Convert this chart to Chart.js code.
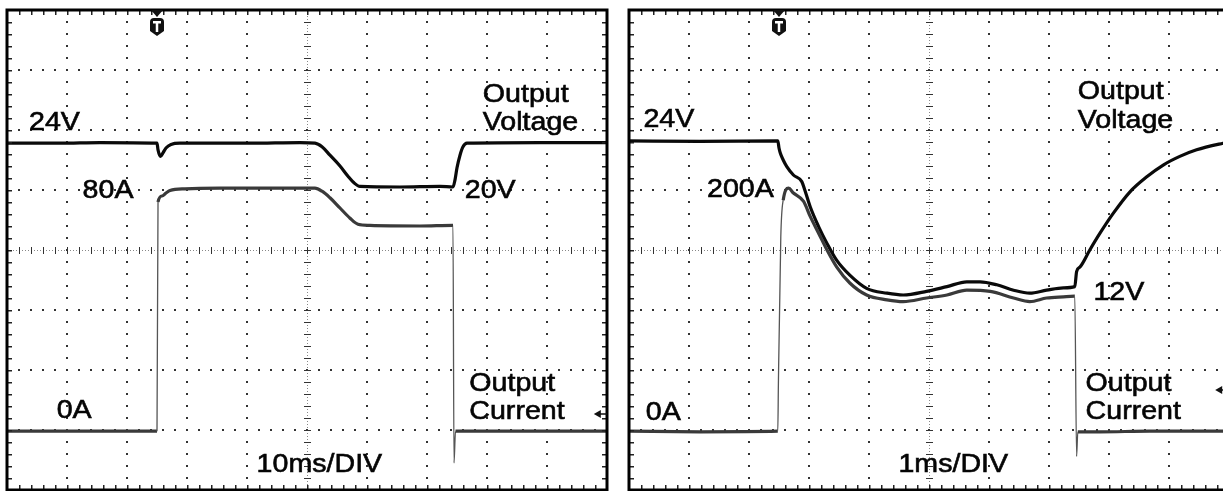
<!DOCTYPE html>
<html>
<head>
<meta charset="utf-8">
<script src="https://cdn.jsdelivr.net/npm/chart.js@4.4.1/dist/chart.umd.min.js"></script>
<style>
  html, body { margin: 0; padding: 0; background: #fff; overflow: hidden; }
  #wrap { position: relative; width: 1223px; height: 491px; overflow: hidden; }
  canvas { position: absolute; top: 0; }
  #left { left: 0; }
  #right { left: 612px; }
</style>
</head>
<body>
<div id="wrap">
  <canvas id="left" width="612" height="491"></canvas>
  <canvas id="right" width="623" height="491"></canvas>
</div>
<script>
// time in ms from the left edge of the screen, level in screen divisions (0 = bottom, 8 = top)

// left screen, 10ms/DIV
const leftVoltTime = [0, 8.8, 15.5, 25, 25.17, 25.58, 26, 26.5, 27.33, 28.83, 40.5, 48.83, 51.33, 52.5, 53.83, 55.5, 56.83, 57.83, 58.83, 65.5, 72.17, 74.33, 74.67, 75, 75.5, 76, 76.67, 88.83, 100];
const leftVolt = [5.78, 5.78, 5.79, 5.78, 5.67, 5.56, 5.62, 5.70, 5.76, 5.78, 5.78, 5.79, 5.78, 5.72, 5.58, 5.40, 5.23, 5.12, 5.06, 5.05, 5.06, 5.05, 5.17, 5.37, 5.58, 5.72, 5.78, 5.79, 5.79];
const leftAmpTime = [0, 25, 25.17, 25.83, 26.5, 27.17, 29.67, 35.5, 45.5, 51.33, 52.5, 53.83, 55.5, 57.17, 58.5, 60.5, 68.83, 74.33, 74.5, 74.75, 77.17, 100];
const leftAmp = [0.98, 0.98, 4.80, 4.90, 4.95, 4.99, 5.02, 5.03, 5.03, 5.03, 4.98, 4.87, 4.70, 4.53, 4.43, 4.41, 4.40, 4.41, 0.45, 0.98, 0.98, 0.98];

// right screen, 1ms/DIV
const rightVoltTime = [0, 1.18, 2.48, 2.5, 2.52, 2.57, 2.63, 2.74, 2.88, 2.93, 3.02, 3.16, 3.3, 3.46, 3.68, 3.96, 4.3, 4.57, 4.96, 5.3, 5.63, 5.85, 6.13, 6.41, 6.68, 6.96, 7.24, 7.43, 7.46, 7.52, 7.68, 7.85, 8.07, 8.35, 8.63, 8.91, 9.18, 9.46, 9.9, 10];
const rightVolt = [5.82, 5.81, 5.82, 5.70, 5.62, 5.50, 5.39, 5.25, 5.14, 5.00, 4.72, 4.39, 4.11, 3.83, 3.58, 3.36, 3.28, 3.25, 3.31, 3.39, 3.47, 3.47, 3.42, 3.33, 3.28, 3.33, 3.37, 3.39, 3.64, 3.72, 4.00, 4.28, 4.61, 4.97, 5.22, 5.42, 5.56, 5.67, 5.78, 5.80];
const rightAmpTime = [0, 1.18, 2.48, 2.49, 2.53, 2.57, 2.66, 2.74, 2.91, 3.02, 3.16, 3.3, 3.46, 3.68, 3.96, 4.3, 4.57, 4.96, 5.3, 5.63, 6.02, 6.41, 6.68, 6.96, 7.24, 7.43, 7.46, 7.48, 7.85, 8.68, 10];
const rightAmp = [0.98, 0.97, 0.98, 1.78, 4.22, 4.83, 5.03, 4.95, 4.81, 4.56, 4.28, 4.00, 3.72, 3.45, 3.25, 3.17, 3.14, 3.20, 3.25, 3.33, 3.31, 3.20, 3.14, 3.20, 3.22, 3.23, 0.56, 0.97, 0.97, 0.98, 0.98];

// text on the screens: [text, time, level of baseline]
const leftLabels = [
  ["24V", 3.67, 6.0], ["Output", 79.3, 6.47], ["Voltage", 79.3, 6.0],
  ["80A", 12.6, 4.87], ["20V", 76.3, 4.87], ["0A", 8.28, 1.2],
  ["Output", 77.05, 1.655], ["Current", 77.05, 1.183], ["10ms/DIV", 41.6, 0.305]
];
const rightLabels = [
  ["24V", 0.24, 6.05], ["200A", 1.3, 4.88], ["Output", 7.48, 6.51], ["Voltage", 7.48, 6.03],
  ["12V", 7.74, 3.17], ["0A", 0.28, 1.17],
  ["Output", 7.61, 1.655], ["Current", 7.61, 1.178], ["1ms/DIV", 4.49, 0.305]
];

const zip = (xs, ys) => xs.map((x, i) => ({ x: x, y: ys[i] }));

const scopePlugin = {
  id: "scope",
  beforeDatasetsDraw(chart, args, opts) {
    const { ctx, chartArea: a, scales } = chart;
    const px = d => scales.x.getPixelForValue(d * opts.perDiv);
    const py = d => scales.y.getPixelForValue(d);
    ctx.save();
    ctx.fillStyle = "#333";
    for (let i = 1; i < 10; i++) {
      if (i === 5) continue;
      const gx = Math.round(px(i));
      for (let k = 1; k < 40; k++) ctx.fillRect(gx - 1, Math.round(py(k * 0.2)) - 1, 2, 2);
    }
    for (let j = 1; j < 8; j++) {
      if (j === 4) continue;
      const gy = Math.round(py(j));
      for (let k = 1; k < 50; k++) ctx.fillRect(Math.round(px(k * 0.2)) - 1, gy - 1, 2, 2);
    }
    // centre cross with fine ticks
    const cx = Math.round(px(5)), cy = Math.round(py(4));
    ctx.fillStyle = "#888";
    for (let k = 1; k < 200; k++) ctx.fillRect(Math.round(px(k * 0.05)), cy, 1, 1);
    for (let k = 1; k < 160; k++) ctx.fillRect(cx, Math.round(py(k * 0.05)), 1, 1);
    ctx.fillStyle = "#333";
    for (let k = 1; k < 50; k++) ctx.fillRect(Math.round(px(k * 0.2)), cy - 3, 1, 7);
    for (let k = 1; k < 40; k++) ctx.fillRect(cx - 3, Math.round(py(k * 0.2)), 7, 1);
    ctx.restore();
  },
  afterDatasetsDraw(chart, args, opts) {
    const { ctx, chartArea: a, scales } = chart;
    const px = d => scales.x.getPixelForValue(d * opts.perDiv);
    const py = d => scales.y.getPixelForValue(d);
    ctx.save();
    // border with minor ticks
    ctx.fillStyle = "#222";
    for (let k = 1; k < 50; k++) {
      const tx = Math.round(px(k * 0.2));
      ctx.fillRect(tx, a.top, 1.5, 5);
      ctx.fillRect(tx, a.bottom - 5, 1.5, 5);
    }
    for (let k = 1; k < 40; k++) {
      const ty = Math.round(py(k * 0.2));
      ctx.fillRect(a.left, ty, 5, 1.5);
      ctx.fillRect(a.right - 5, ty, 5, 1.5);
    }
    ctx.strokeStyle = "#000";
    ctx.lineWidth = 3;
    ctx.strokeRect(a.left, a.top, a.right - a.left, a.bottom - a.top);

    // trigger marker
    const tx = Math.round(px(opts.trigger));
    const top = a.top;
    ctx.fillStyle = "#111";
    ctx.beginPath();
    ctx.moveTo(tx - 6, top); ctx.lineTo(tx + 6, top); ctx.lineTo(tx, top + 7);
    ctx.closePath(); ctx.fill();
    ctx.beginPath();
    ctx.moveTo(tx - 7, top + 12);
    ctx.quadraticCurveTo(tx - 7, top + 8, tx - 3, top + 8);
    ctx.lineTo(tx + 3, top + 8);
    ctx.quadraticCurveTo(tx + 7, top + 8, tx + 7, top + 12);
    ctx.lineTo(tx + 7, top + 21);
    ctx.lineTo(tx, top + 26);
    ctx.lineTo(tx - 7, top + 21);
    ctx.closePath(); ctx.fill();
    ctx.fillStyle = "#fff";
    ctx.fillRect(tx - 4, top + 11, 8, 2.5);
    ctx.fillRect(tx - 1.25, top + 11, 2.5, 11);

    // channel arrow
    const ax = px(opts.arrow[0]), ay = Math.round(py(opts.arrow[1]));
    ctx.fillStyle = "#111";
    ctx.beginPath();
    ctx.moveTo(ax, ay); ctx.lineTo(ax + 7, ay - 4); ctx.lineTo(ax + 7, ay + 4);
    ctx.closePath(); ctx.fill();
    ctx.fillRect(ax + 6, ay - 0.75, 7, 1.5);

    // labels
    ctx.fillStyle = "#050505";
    ctx.strokeStyle = "#050505";
    ctx.lineWidth = 0.6;
    ctx.font = "26px 'Liberation Sans', Arial, sans-serif";
    ctx.textBaseline = "alphabetic";
    ctx.textAlign = "left";
    opts.labels.forEach(l => {
      ctx.save();
      ctx.translate(px(l[1] / opts.perDiv), py(l[2]));
      ctx.scale(1.1, 1);
      ctx.fillText(l[0], 0, 0);
      ctx.strokeText(l[0], 0, 0);
      ctx.restore();
    });
    ctx.restore();
  }
};

const thinSteep = (wide, thin) => c => {
  const dx = Math.abs(c.p1.x - c.p0.x), dy = Math.abs(c.p1.y - c.p0.y);
  return dy > 20 && dy > 4 * dx ? thin : wide;
};

function makeScope(id, tMax, volt, amp, opts, padding) {
  return new Chart(document.getElementById(id), {
    type: "line",
    data: {
      datasets: [
        {
          label: "Output Current",
          data: amp,
          borderColor: "#3a3a3a",
          borderWidth: 3.2,
          pointRadius: 0,
          cubicInterpolationMode: "monotone",
          segment: {
            borderWidth: thinSteep(3.2, 1.3),
            borderColor: c => (thinSteep(0, 1)(c) ? "#555" : "#3a3a3a"),
          },
        },
        {
          label: "Output Voltage",
          data: volt,
          borderColor: "#0a0a0a",
          borderWidth: 3.2,
          pointRadius: 0,
          cubicInterpolationMode: "monotone",
        },
      ],
    },
    options: {
      responsive: false,
      animation: false,
      devicePixelRatio: 1,
      layout: { padding: padding },
      scales: {
        x: { type: "linear", min: 0, max: tMax, display: false },
        y: { type: "linear", min: 0, max: 8, display: false },
      },
      plugins: {
        legend: { display: false },
        tooltip: { enabled: false },
        scope: opts,
      },
    },
    plugins: [scopePlugin],
  });
}

makeScope("left", 100, zip(leftVoltTime, leftVolt), zip(leftAmpTime, leftAmp),
  { perDiv: 10, trigger: 2.5, arrow: [9.78, 1.27], labels: leftLabels },
  { left: 7, top: 10, right: 5, bottom: 1 });

makeScope("right", 10, zip(rightVoltTime, rightVolt), zip(rightAmpTime, rightAmp),
  { perDiv: 1, trigger: 2.5, arrow: [9.77, 1.67], labels: rightLabels },
  { left: 17, top: 10, right: 6, bottom: 1 });
</script>
</body>
</html>
